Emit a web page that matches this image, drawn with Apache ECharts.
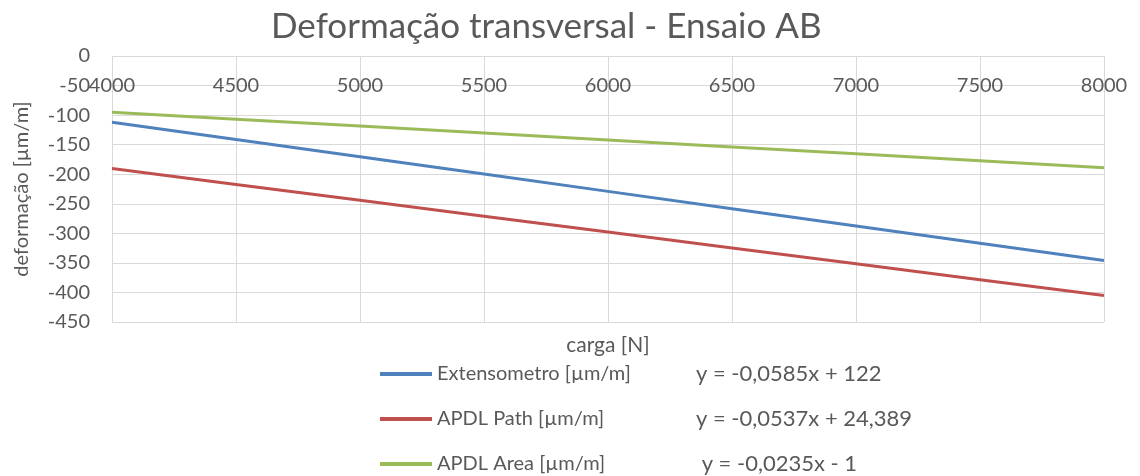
<!DOCTYPE html>
<html>
<head>
<meta charset="utf-8">
<script src="https://cdn.jsdelivr.net/npm/echarts@6/dist/echarts.min.js"></script>
<style>
  html, body { margin: 0; padding: 0; background: #fff; }
  #chart { width: 1140px; height: 476px; }
</style>
</head>
<body>
<div id="chart"></div>
<script>
  // carga [N]
  var loads = [4000, 4500, 5000, 5500, 6000, 6500, 7000, 7500, 8000];
  // deformação [µm/m]
  var extensometro = [-112, -141.3, -170.5, -199.8, -229, -258.3, -287.5, -316.8, -346];
  var apdlPath = [-190.4, -217.3, -244.1, -271, -297.8, -324.7, -351.5, -378.4, -405.2];
  var apdlArea = [-95, -106.8, -118.5, -130.3, -142, -153.8, -165.5, -177.3, -189];

  var seriesNames = ['Extensometro [µm/m]', 'APDL Path [µm/m]', 'APDL Area [µm/m]'];
  var trendLabels = ['y = -0,0585x + 122', 'y = -0,0537x + 24,389', ' y = -0,0235x - 1'];
  var colors = ['#4F81BD', '#C0504D', '#9BBB59'];

  function pairs(ys) {
    var out = [];
    for (var i = 0; i < loads.length; i++) out.push([loads[i], ys[i]]);
    return out;
  }

  var font = 'Lato';
  var grey = '#595959';
  var fs = 20;

  // one legend row per series, Excel stacks them 45px apart
  function legendRow(i) {
    return {
      orient: 'vertical',
      left: 380,
      top: 363 + i * 45,
      padding: 0,
      itemWidth: 52,
      itemHeight: 4,
      icon: 'rect',
      data: [seriesNames[i]],
      formatter: function (name) {
        return '{n|' + name + '}{e|' + trendLabels[i] + '}';
      },
      textStyle: {
        fontFamily: font,
        fontSize: fs,
        color: grey,
        rich: {
          n: { width: 259, fontSize: fs, lineHeight: 24, fontFamily: font, color: grey },
          e: { fontSize: 22, lineHeight: 24, fontFamily: font, color: grey }
        }
      }
    };
  }

  var chart = echarts.init(document.getElementById('chart'));
  chart.setOption({
    animation: false,
    color: colors,
    textStyle: { fontFamily: font },
    title: {
      text: 'Deformação transversal - Ensaio AB',
      left: 266,
      top: 4,
      textStyle: { fontFamily: font, fontSize: 35, fontWeight: 'normal', color: grey }
    },
    grid: { left: 112, right: 36, top: 56, bottom: 154, outerBoundsMode: 'none' },
    legend: [legendRow(0), legendRow(1), legendRow(2)],
    xAxis: {
      type: 'value',
      min: 4000,
      max: 8000,
      interval: 500,
      // Excel draws this axis where y = 0, i.e. along the top edge
      offset: -266,
      name: 'carga [N]',
      nameLocation: 'middle',
      nameGap: 279,
      nameTextStyle: { fontFamily: font, fontSize: 21, color: grey },
      axisLine: { onZero: false, lineStyle: { color: '#D9D9D9' } },
      axisTick: { show: false },
      axisLabel: {
        fontFamily: font, fontSize: fs, color: grey, margin: 20,
        showMinLabel: true, showMaxLabel: true,
        formatter: function (v) { return String(v); }
      },
      splitLine: { show: true, lineStyle: { color: '#D9D9D9' } }
    },
    yAxis: {
      type: 'value',
      min: -450,
      max: 0,
      interval: 50,
      name: 'deformação [µm/m]',
      nameLocation: 'middle',
      nameGap: 80,
      nameTextStyle: { fontFamily: font, fontSize: fs, color: grey },
      axisLine: { show: false },
      axisTick: { show: false },
      axisLabel: {
        fontFamily: font, fontSize: fs, color: grey, margin: 22,
        showMinLabel: true, showMaxLabel: true,
        formatter: function (v) { return String(v); }
      },
      splitLine: { show: true, lineStyle: { color: '#D9D9D9' } }
    },
    series: [
      { name: seriesNames[0], type: 'line', data: pairs(extensometro), showSymbol: false, lineStyle: { width: 3 } },
      { name: seriesNames[1], type: 'line', data: pairs(apdlPath), showSymbol: false, lineStyle: { width: 3 } },
      { name: seriesNames[2], type: 'line', data: pairs(apdlArea), showSymbol: false, lineStyle: { width: 3 } }
    ]
  });
</script>
</body>
</html>
